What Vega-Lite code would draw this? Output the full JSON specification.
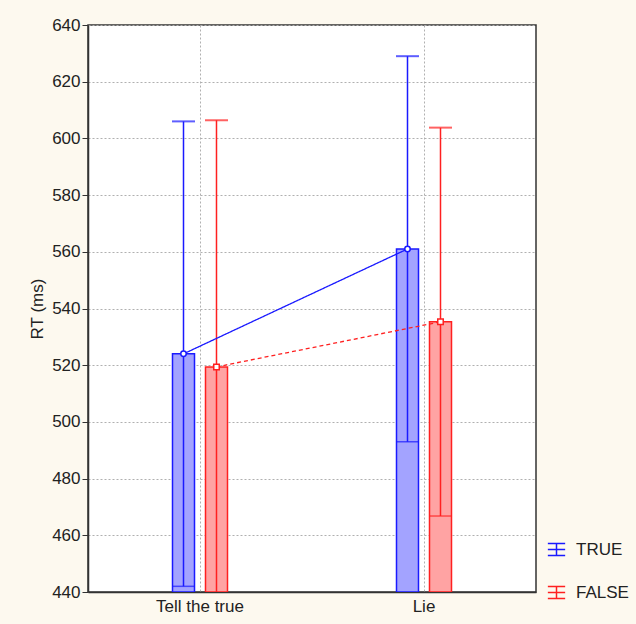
{
  "$schema": "https://vega.github.io/schema/vega-lite/v6.json",
  "autosize": "none",
  "width": 448,
  "height": 567,
  "padding": {"left": 88, "top": 25, "right": 100, "bottom": 32},
  "background": "#fdf9ef",
  "config": {
    "font": "Liberation Sans",
    "view": {"fill": "white", "stroke": "#333", "strokeWidth": 1.5},
    "axis": {"labelFont": "Liberation Sans", "titleFont": "Liberation Sans", "labelFontSize": 17, "titleFontSize": 17, "titleFontWeight": "normal", "labelColor": "#222", "titleColor": "#222", "domainColor": "#333", "domainWidth": 1.5, "tickColor": "#333", "gridColor": "#b0b0b0", "gridDash": [2, 2], "gridWidth": 1}
  },
  "data": {
    "values": [
      {"cond": "Tell the true", "grp": "TRUE", "mean": 524, "lo": 442, "hi": 606},
      {"cond": "Tell the true", "grp": "FALSE", "mean": 519.4, "lo": 432.4, "hi": 606.4},
      {"cond": "Lie", "grp": "TRUE", "mean": 561, "lo": 493, "hi": 629},
      {"cond": "Lie", "grp": "FALSE", "mean": 535.3, "lo": 466.8, "hi": 603.8}
    ]
  },
  "encoding": {
    "x": {"field": "cond", "type": "nominal", "sort": ["Tell the true", "Lie"], "scale": {"paddingInner": 0, "paddingOuter": 0},
      "axis": {"title": null, "labelAngle": 0, "ticks": false, "labelPadding": 6, "grid": true, "bandPosition": 0.5}},
    "xOffset": {"field": "grp", "type": "nominal", "scale": {"domain": ["TRUE", "FALSE"], "range": [84.5, 139.5], "paddingInner": 0.333, "paddingOuter": 0}}
  },
  "layer": [
    {
      "mark": {"type": "bar", "strokeWidth": 1.5, "clip": true},
      "encoding": {
        "y": {"field": "mean", "type": "quantitative", "scale": {"domain": [440, 640], "zero": false, "nice": false},
          "axis": {"title": "RT (ms)", "values": [440, 460, 480, 500, 520, 540, 560, 580, 600, 620, 640], "tickSize": 6, "labelPadding": 2, "titlePadding": 5}},
        "y2": {"datum": 440},
        "fill": {"condition": {"test": "datum.grp === 'TRUE'", "value": "#a3a3ff"}, "value": "#ffa3a3"},
        "stroke": {"condition": {"test": "datum.grp === 'TRUE'", "value": "#1a1aff"}, "value": "#ff2020"}
      }
    },
    {
      "mark": {"type": "rule", "strokeWidth": 1.5, "clip": true},
      "encoding": {
        "y": {"field": "lo", "type": "quantitative"},
        "y2": {"field": "hi"},
        "stroke": {"field": "grp", "type": "nominal", "scale": {"domain": ["TRUE", "FALSE"], "range": ["#1a1aff", "#ff2020"]},
          "legend": {"title": null, "orient": "none", "legendX": 459, "legendY": 515, "symbolType": "M-1,-0.7H1M-1,0.7H1M0,-0.7V0.7M-1,0H1", "symbolSize": 300, "symbolStrokeWidth": 1.5, "labelFontSize": 17, "labelFont": "Liberation Sans", "labelColor": "#222", "labelOffset": 10, "rowPadding": 24}}
      }
    },
    {
      "mark": {"type": "tick", "size": 22, "thickness": 1.5, "clip": true},
      "encoding": {
        "y": {"field": "lo", "type": "quantitative"},
        "color": {"condition": {"test": "datum.grp === 'TRUE'", "value": "#1a1aff"}, "value": "#ff2020"}
      }
    },
    {
      "mark": {"type": "tick", "size": 23, "thickness": 2, "clip": true},
      "encoding": {
        "y": {"field": "hi", "type": "quantitative"},
        "color": {"condition": {"test": "datum.grp === 'TRUE'", "value": "#1a1aff"}, "value": "#ff2020"}
      }
    },
    {
      "mark": {"type": "line", "strokeWidth": 1.3},
      "encoding": {
        "y": {"field": "mean", "type": "quantitative"},
        "detail": {"field": "grp"},
        "stroke": {"field": "grp", "type": "nominal"},
        "strokeDash": {"condition": {"test": "datum.grp === 'TRUE'", "value": [1, 0]}, "value": [4, 3]}
      }
    },
    {
      "mark": {"type": "point", "filled": true, "fill": "white", "strokeWidth": 1.5, "size": 30, "opacity": 1},
      "encoding": {
        "y": {"field": "mean", "type": "quantitative"},
        "stroke": {"condition": {"test": "datum.grp === 'TRUE'", "value": "#1a1aff"}, "value": "#ff2020"},
        "shape": {"condition": {"test": "datum.grp === 'TRUE'", "value": "circle"}, "value": "square"}
      }
    }
  ]
}
